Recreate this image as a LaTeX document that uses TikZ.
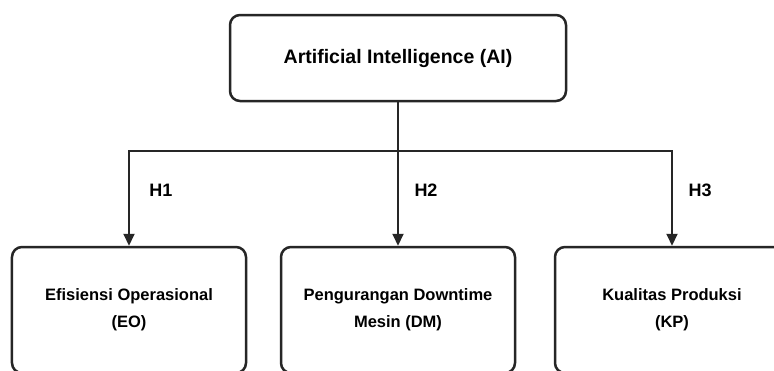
\documentclass[tikz,border=0pt]{standalone}
\usepackage{fontspec}
\setmainfont{Liberation Sans}
\usetikzlibrary{arrows.meta}
\definecolor{lineGray}{RGB}{38,38,38}

\begin{document}
\begin{tikzpicture}[x=1bp, y=-1bp,
  topbox/.style={rectangle, draw=lineGray, line width=2.5bp, rounded corners=10bp, minimum width=336bp, minimum height=86bp, align=center, font=\fontsize{19.5bp}{23bp}\selectfont\bfseries},
  varbox/.style={rectangle, draw=lineGray, line width=2.5bp, rounded corners=10bp, minimum width=234bp, minimum height=126bp, align=center, font=\fontsize{16.5bp}{27bp}\selectfont\bfseries},
  arrow/.style={-{Triangle[length=12bp, width=11bp]}, line width=2bp, color=lineGray},
  hlabel/.style={font=\fontsize{18bp}{20bp}\selectfont\bfseries},
]
  \useasboundingbox (0,0) rectangle (774,370);
  \fill[white] (0,0) rectangle (774,370);
  \clip (0,0) rectangle (774,370);

  \node[topbox] (ai) at (398,58) {Artificial Intelligence (AI)};
  \node[varbox] (eo) at (129,310) {Efisiensi Operasional\\(EO)};
  \node[varbox] (dm) at (398,310) {Pengurangan Downtime\\Mesin (DM)};
  \node[varbox] (kp) at (672,310) {Kualitas Produksi\\(KP)};

  \coordinate (split) at (398,151);
  \draw[arrow] (ai.south) -- (dm.north);
  \draw[arrow] (split) -| (eo.north);
  \draw[arrow] (split) -| (kp.north);

  \node[hlabel] (h1) at (161,190) {H1};
  \node[hlabel] (h2) at (426,190) {H2};
  \node[hlabel] (h3) at (700,190) {H3};
\end{tikzpicture}
\end{document}
